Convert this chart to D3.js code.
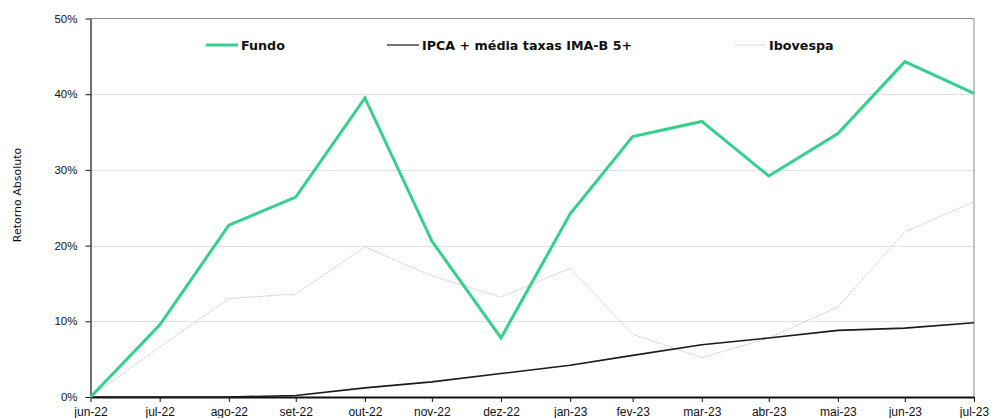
<!DOCTYPE html>
<html>
<head>
<meta charset="utf-8">
<script src="https://cdn.jsdelivr.net/npm/d3@7"></script>
<style>
  body { margin: 0; background: #fff; }
  svg { display: block; font-family: "DejaVu Sans", Verdana, sans-serif; }
</style>
</head>
<body>
<svg id="chart"></svg>
<script>
// month-end dates
const months = ['2022-06-30', '2022-07-31', '2022-08-31', '2022-09-30', '2022-10-31', '2022-11-30',
    '2022-12-31', '2023-01-31', '2023-02-28', '2023-03-31', '2023-04-30', '2023-05-31',
    '2023-06-30', '2023-07-31'];
const monthLabels = ['jun-22', 'jul-22', 'ago-22', 'set-22', 'out-22', 'nov-22', 'dez-22',
    'jan-23', 'fev-23', 'mar-23', 'abr-23', 'mai-23', 'jun-23', 'jul-23'];

const fundo = [0, 9.5, 22.7, 26.4, 39.5, 20.6, 7.8, 24.2, 34.4, 36.4, 29.2, 34.8, 44.3, 40.1];
const ipca = [0, 0, 0, 0.2, 1.2, 2.0, 3.1, 4.2, 5.5, 6.9, 7.8, 8.8, 9.1, 9.8];
const ibovespa = [0, 6.6, 13.0, 13.6, 19.8, 16.0, 13.2, 17.0, 8.3, 5.2, 7.8, 11.9, 21.8, 25.8];

const yTicks = [0, 10, 20, 30, 40, 50];

const seriesList = [
    {name: 'Fundo', values: fundo, color: '#34d08c', width: 3, dash: null, legendX: 206},
    {name: 'IPCA + média taxas IMA-B 5+', values: ipca, color: '#1a1a1a', width: 1.6, dash: null, legendX: 387},
    {name: 'Ibovespa', values: ibovespa, color: '#b8b8b8', width: 1, dash: '1,1', legendX: 734}
];

const width = 999, height = 418;
const margin = {top: 18.5, right: 25, bottom: 21, left: 90.5};

const svg = d3.select('#chart')
    .attr('width', width)
    .attr('height', height);

const parse = d3.timeParse('%Y-%m-%d');
const dates = months.map(parse);

const xScale = d3.scaleTime()
    .domain(d3.extent(dates))
    .range([margin.left, width - margin.right]);

const yScale = d3.scaleLinear()
    .domain([0, 50])
    .range([height - margin.bottom, margin.top]);

// gridlines
svg.append('g')
    .selectAll('line')
    .data(yTicks.filter(d => d > 0 && d < 50))
    .join('line')
    .attr('x1', margin.left)
    .attr('x2', width - margin.right)
    .attr('y1', d => Math.round(yScale(d)) + 0.5)
    .attr('y2', d => Math.round(yScale(d)) + 0.5)
    .attr('stroke', '#e2e2e2')
    .attr('stroke-width', 1);

// top and right border
svg.append('path')
    .attr('d', `M${margin.left},${yScale(50)}H${xScale(dates[dates.length - 1])}V${yScale(0)}`)
    .attr('fill', 'none')
    .attr('stroke', '#8c8c8c')
    .attr('stroke-width', 1);

// y axis
const yAxis = svg.append('g')
    .attr('transform', `translate(${margin.left},0)`)
    .call(d3.axisLeft(yScale).tickValues(yTicks).tickFormat(d => d + '%').tickSize(5).tickSizeOuter(0));
yAxis.select('.domain').attr('stroke', '#111').attr('stroke-width', 1.2);
yAxis.selectAll('.tick line').attr('stroke', '#111');
yAxis.selectAll('text')
    .attr('x', -13)
    .style('font-size', '11.5px')
    .attr('fill', '#111');

// x axis (labels run off the bottom edge, as in the source)
const xAxis = svg.append('g')
    .attr('transform', `translate(0,${yScale(0)})`)
    .call(d3.axisBottom(xScale).tickValues(dates).tickFormat((d, i) => monthLabels[i]).tickSize(5).tickSizeOuter(0));
xAxis.select('.domain').attr('stroke', '#111').attr('stroke-width', 2);
xAxis.selectAll('.tick line').attr('stroke', '#111');
xAxis.selectAll('text')
    .attr('y', 10)
    .style('font-size', '12px')
    .attr('fill', '#111');

// y title
svg.append('text')
    .attr('transform', `translate(21,195) rotate(-90)`)
    .attr('text-anchor', 'middle')
    .style('font-size', '11px')
    .attr('fill', '#111')
    .text('Retorno Absoluto');

// lines
const line = d3.line()
    .x((d, i) => xScale(dates[i]))
    .y(d => yScale(d));

[2, 1, 0].forEach(k => {
    const s = seriesList[k];
    svg.append('path')
        .datum(s.values)
        .attr('d', line)
        .attr('fill', 'none')
        .attr('stroke', s.color)
        .attr('stroke-width', s.width)
        .attr('stroke-dasharray', s.dash)
        .attr('stroke-linejoin', 'miter');
});

// legend
const legend = svg.append('g').attr('class', 'legend');
seriesList.forEach(s => {
    legend.append('line')
        .attr('x1', s.legendX)
        .attr('x2', s.legendX + 32)
        .attr('y1', 45)
        .attr('y2', 45)
        .attr('stroke', s.name === 'IPCA + média taxas IMA-B 5+' ? '#444' : s.color)
        .attr('stroke-width', s.name === 'Fundo' ? 3 : (s.dash ? 1 : 1.5))
        .attr('stroke-dasharray', s.dash);
    legend.append('text')
        .attr('x', s.legendX + 35)
        .attr('y', 49.5)
        .style('font-size', '12.7px')
        .style('font-weight', 'bold')
        .attr('fill', '#111')
        .text(s.name);
});
</script>
</body>
</html>
